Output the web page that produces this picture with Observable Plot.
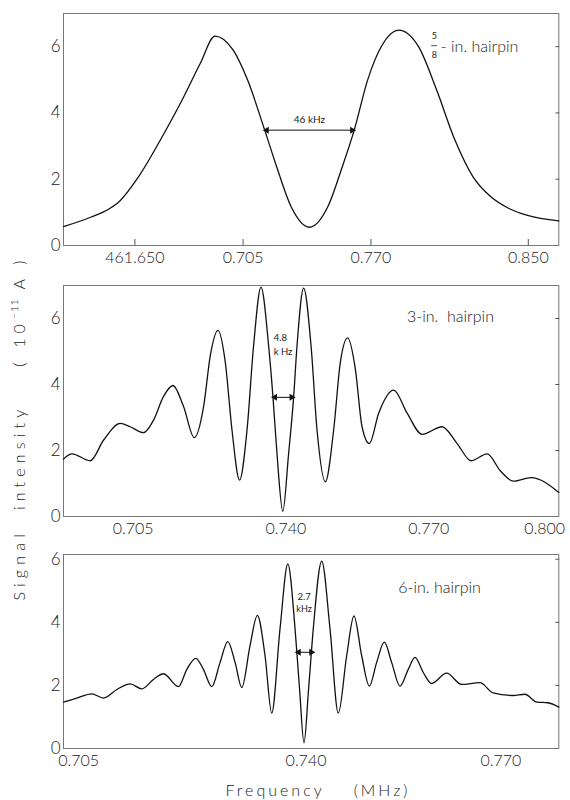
<!DOCTYPE html>
<html>
<head>
<meta charset="utf-8">
<script src="https://cdn.jsdelivr.net/npm/d3@7"></script>
<script src="https://cdn.jsdelivr.net/npm/@observablehq/plot@0.6"></script>
<style>
  body { margin: 0; background: #fff; }
  #wrap { position: relative; width: 570px; height: 800px; font-family: Lato, "Liberation Sans", sans-serif; color: #222; background:#fff; overflow:hidden; }
  .p { position: absolute; left: 0; }
  #ylab { position: absolute; left: 18px; top: 428px; transform: translate(-50%, -50%) rotate(-90deg); white-space: nowrap; font-size: 16px; letter-spacing: 5.2px; font-weight: 300; }
  #ylab sup { font-size: 10px; letter-spacing: 1px; }
  #xlab { position: absolute; left: 318px; top: 789px; transform: translate(-50%, -50%); white-space: pre; font-size: 16px; letter-spacing: 3px; font-weight: 300; }
</style>
</head>
<body>
<div id="wrap">
  <div class="p" id="p1" style="top:0px"></div>
  <div class="p" id="p2" style="top:270px"></div>
  <div class="p" id="p3" style="top:540px"></div>
  <div id="ylab">Signal&nbsp; intensity&nbsp;&nbsp;&nbsp; ( 10<sup>−11</sup> A )</div>
  <div id="xlab">Frequency    (MHz)</div>
</div>
<script>
// ---------- Panel 1: 5/8-in. hairpin (frequency in kHz above 461.000 MHz) ----------
const freq1 = [613.7,627.8,637,642.6,651.8,664.8,674,683.2,690.7,699.9,707.3,716,722.1,729.5,738.7,748,755.4,761.5,768.3,775.7,784,794.2,803.4,812.7,821.9,831.1,840.4,849.6,865.5];
const sig1  = [0.57,0.86,1.11,1.36,2.07,3.38,4.39,5.49,6.32,5.9,4.99,3.48,2.37,1.16,0.55,1.16,2.37,3.48,4.99,6.05,6.5,6.0,4.69,3.18,2.07,1.46,1.11,0.91,0.74];
const xTicks1 = [650, 705, 770, 850];
const xLabels1 = ["461.650", "0.705", "0.770", "0.850"];

// ---------- Panel 2: 3-in. hairpin ----------
const freq2 = [688.95,690.86,695.03,698.05,701.85,704.13,707.16,709.43,711.71,713.85,716.26,718.70,720.82,722.34,724.09,725.76,727.28,729.01,730.70,732.20,733.88,735.61,736.61,737.52,738.84,740.16,741.30,742.08,743.58,745.26,746.63,748.52,750.41,751.93,753.60,755.35,756.87,758.53,760.65,764.07,767.12,770.53,775.08,778.50,781.69,785.33,788.36,791.31,795.34,801.63];
const sig2  = [1.74,1.90,1.69,2.31,2.82,2.72,2.54,2.92,3.64,3.97,3.33,2.39,3.33,4.87,5.64,4.67,2.62,1.10,2.62,5.18,6.95,5.18,3.61,1.90,0.16,1.90,3.61,5.18,6.92,5.18,2.62,1.05,2.62,4.67,5.41,4.46,2.72,2.21,3.13,3.83,3.13,2.49,2.72,2.21,1.69,1.90,1.38,1.07,1.18,0.73];
const xTicks2 = [705, 740, 770, 800];
const xLabels2 = ["0.705", "0.740", "0.770", "0.800"];

// ---------- Panel 3: 6-in. hairpin ----------
const freq3 = [702.66,704.72,707.03,708.82,710.88,712.92,714.72,716.51,718.05,720.35,721.65,723.03,724.2,725.49,726.77,727.95,729.08,730.11,731.38,732.51,733.69,734.72,736.0,737.2,738.31,739.0,739.69,740.4,741.12,742.42,743.69,744.97,746.26,747.38,748.57,749.74,750.88,752.05,753.18,754.46,755.74,756.77,758.05,759.34,761.65,763.95,766.77,768.82,771.89,773.69,775.54,777.23,778.92];
const sig3  = [1.47,1.60,1.73,1.60,1.87,2.05,1.89,2.19,2.37,1.96,2.51,2.86,2.51,1.96,2.73,3.39,2.73,1.93,3.26,4.22,2.94,1.12,3.80,5.85,3.80,1.9,0.18,1.9,3.80,5.94,3.80,1.12,2.94,4.20,2.94,1.98,2.73,3.37,2.73,1.98,2.51,2.89,2.41,2.06,2.39,2.03,2.09,1.76,1.68,1.72,1.47,1.45,1.31];
const xTicks3 = [705, 740, 770];
const xLabels3 = ["0.705", "0.740", "0.770"];

const yTicks = [0, 2, 4, 6];

function rows(f, s) { return f.map((x, i) => ({f: x, s: s[i]})); }

function arrowMarks(x1, x2, y) {
  return [
    Plot.link([{x1, x2, y}], {x1: "x1", x2: "x2", y1: "y", y2: "y", stroke: "#111", strokeWidth: 1}),
    Plot.dot([{x: x1, y}], {x: "x", y: "y", symbol: "triangle", rotate: -90, r: 2.6, fill: "#111", stroke: null, dx: 2}),
    Plot.dot([{x: x2, y}], {x: "x", y: "y", symbol: "triangle", rotate: 90, r: 2.6, fill: "#111", stroke: null, dx: -2})
  ];
}

// x tick labels; the hand-lettered originals sit slightly off their ticks, so a per-label nudge is allowed
function xLabelAxes(ticks, labels, nudges) {
  return ticks.map((t, i) => Plot.axisX({ticks: [t], tickFormat: () => labels[i], tickSize: 0, tickPadding: 6, label: null, fontSize: 16, dx: nudges ? nudges[i] : 0}));
}

function panel({data, height, marginTop, marginBottom, xDomain, yDomain, xTicks, xLabels, nudges, extra, bottomTicks}) {
  return Plot.plot({
    width: 570,
    height,
    marginLeft: 63,
    marginRight: 11.7,
    marginTop,
    marginBottom,
    x: {domain: xDomain},
    y: {domain: yDomain},
    style: {fontFamily: "Lato, 'Liberation Sans', sans-serif", fontSize: "16px", fontWeight: 300, color: "#222", background: "white", overflow: "visible"},
    marks: [
      Plot.frame({stroke: "#777", strokeWidth: 1}),
      ...xLabelAxes(xTicks, xLabels, nudges),
      bottomTicks ? Plot.axisX({ticks: xTicks, tickSize: 6, dy: -6, tickFormat: () => "", label: null, stroke: "#555"}) : null,
      Plot.axisY({ticks: yTicks, tickSize: 0, tickPadding: 3, tickFormat: d => String(d), label: null, fontSize: 17}),
      Plot.axisY({anchor: "right", ticks: yTicks.slice(1), tickSize: 4, dx: -4, tickFormat: () => "", label: null, stroke: "#555"}),
      Plot.line(data, {x: "f", y: "s", curve: "monotone-x", stroke: "#111", strokeWidth: 1.3}),
      ...extra
    ]
  });
}

// Panel 1
document.getElementById("p1").append(panel({
  data: rows(freq1, sig1), height: 270, marginTop: 13, marginBottom: 25,
  xDomain: [613.7, 865.5], yDomain: [0, 7],
  xTicks: xTicks1, xLabels: xLabels1, bottomTicks: true,
  extra: [
    ...arrowMarks(716, 761.5, 3.48),
    Plot.text([{x: 738.7, y: 3.78, t: "46 kHz"}], {x: "x", y: "y", text: "t", fontSize: 10, fontWeight: 400, letterSpacing: "0.5px"}),
    Plot.text([{x: 802.3, y: 6.33, t: "5"}], {x: "x", y: "y", text: "t", fontSize: 9, fontWeight: 400}),
    Plot.text([{x: 802.3, y: 5.73, t: "8"}], {x: "x", y: "y", text: "t", fontSize: 9, fontWeight: 400}),
    Plot.ruleY([6.03], {x1: 800.9, x2: 803.8, stroke: "#222", strokeWidth: 0.8}),
    Plot.text([{x: 805.5, y: 6.0, t: "- in. hairpin"}], {x: "x", y: "y", text: "t", textAnchor: "start", fontSize: 16, letterSpacing: "1px"})
  ]
}));

// Panel 2
document.getElementById("p2").append(panel({
  data: rows(freq2, sig2), height: 270, marginTop: 15, marginBottom: 24,
  xDomain: [688.95, 801.63], yDomain: [0, 7],
  xTicks: xTicks2, xLabels: xLabels2, nudges: [-1, -2, 9, -7], bottomTicks: false,
  extra: [
    ...arrowMarks(736.61, 741.30, 3.61),
    Plot.text([{x: 738.3, y: 5.4, t: "4.8"}], {x: "x", y: "y", text: "t", fontSize: 9.5, fontWeight: 400}),
    Plot.text([{x: 738.9, y: 4.98, t: "k Hz"}], {x: "x", y: "y", text: "t", fontSize: 9.5, fontWeight: 400}),
    Plot.text([{x: 767.1, y: 6.05, t: "3-in.  hairpin"}], {x: "x", y: "y", text: "t", textAnchor: "start", fontSize: 16, letterSpacing: "1.6px"})
  ]
}));

// Panel 3
document.getElementById("p3").append(panel({
  data: rows(freq3, sig3), height: 230, marginTop: 14, marginBottom: 22,
  xDomain: [702.66, 778.92], yDomain: [0, 6.15],
  xTicks: xTicks3, xLabels: xLabels3, bottomTicks: false,
  extra: [
    ...arrowMarks(738.57, 741.12, 3.05),
    Plot.text([{x: 739.7, y: 4.82, t: "2.7"}], {x: "x", y: "y", text: "t", fontSize: 9.5, fontWeight: 400}),
    Plot.text([{x: 739.7, y: 4.42, t: "kHz"}], {x: "x", y: "y", text: "t", fontSize: 9, fontWeight: 400}),
    Plot.text([{x: 754.2, y: 5.08, t: "6-in. hairpin"}], {x: "x", y: "y", text: "t", textAnchor: "start", fontSize: 16, letterSpacing: "1.7px"})
  ]
}));
</script>
</body>
</html>
